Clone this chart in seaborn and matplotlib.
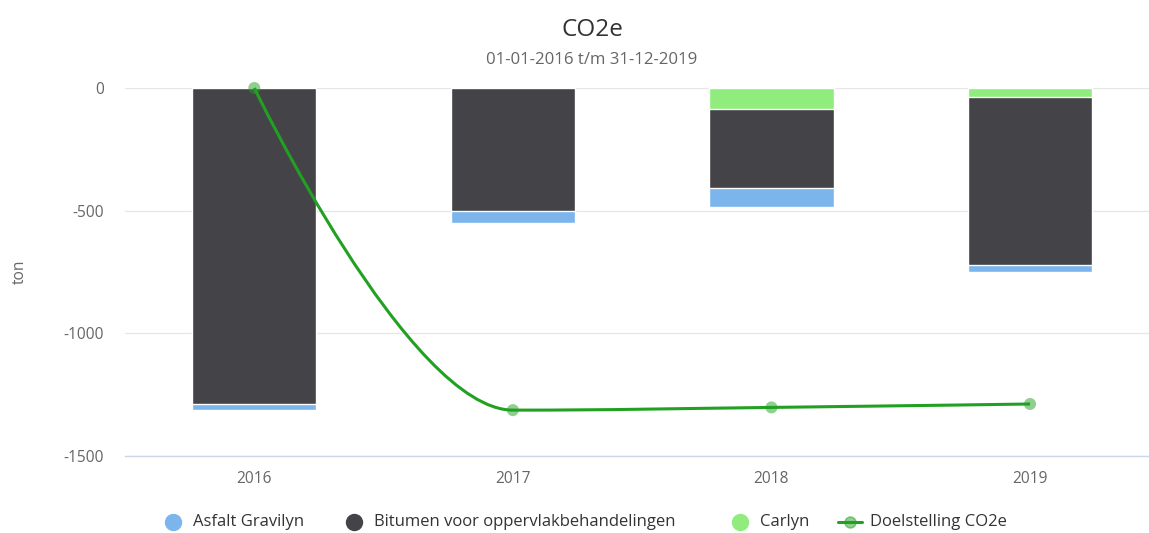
import numpy as np
import pandas as pd
import matplotlib
matplotlib.use("Agg")
import matplotlib.pyplot as plt
from matplotlib.path import Path
from matplotlib.patches import PathPatch
from matplotlib.lines import Line2D
import seaborn as sns

# ---------------- data ----------------
years = ["2016", "2017", "2018", "2019"]
asfalt = [-25, -48, -79, -31]
bitumen = [-1288, -503, -324, -685]
carlyn = [0, 0, -84, -35]
doelstelling = [0, -1313, -1302, -1288]
y_ticks = [-1500, -1000, -500, 0]
y_tick_labels = ["-1500", "-1000", "-500", "0"]
series_names = ["Asfalt Gravilyn", "Bitumen voor oppervlakbehandelingen",
                "Carlyn", "Doelstelling CO2e"]

colors = ["#7cb5ec", "#434348", "#90ed7d"]
line_color = "#22a022"

sns.set_style("white")
plt.rcParams["font.family"] = ["Open Sans", "DejaVu Sans"]
plt.rcParams["axes.unicode_minus"] = False

W, H = 1149, 533
fig = plt.figure(figsize=(W / 100, H / 100), dpi=100)
ax = fig.add_axes([125 / W, (H - 456) / H, (W - 125) / W, (456 - 88) / H])

# stacked (negative): Carlyn nearest zero, then Bitumen, then Asfalt
c_carlyn = np.array(carlyn, float)
c_bitumen = c_carlyn + np.array(bitumen, float)
c_asfalt = c_bitumen + np.array(asfalt, float)
df = pd.DataFrame({"year": years, "asfalt": c_asfalt,
                   "bitumen": c_bitumen, "carlyn": c_carlyn})
for col, color in zip(["asfalt", "bitumen", "carlyn"], colors):
    sns.barplot(data=df, x="year", y=col, color=color, width=0.48,
                edgecolor="white", linewidth=1.0, saturation=1, ax=ax,
                zorder=2, errorbar=None)
for p in ax.patches:
    if abs(p.get_height()) < 1e-9:
        p.set_visible(False)


# ---------------- spline (Highcharts style) ----------------
def spline_path(xs, ys, smoothing=1.5):
    denom = smoothing + 1
    n = len(xs)
    lc = [(x, y) for x, y in zip(xs, ys)]
    rc = list(lc)
    for i in range(1, n - 1):
        px, py = xs[i], ys[i]
        lx, ly = xs[i - 1], ys[i - 1]
        nx, ny = xs[i + 1], ys[i + 1]
        lcx = (smoothing * px + lx) / denom
        lcy = (smoothing * py + ly) / denom
        rcx = (smoothing * px + nx) / denom
        rcy = (smoothing * py + ny) / denom
        corr = ((rcy - lcy) * (rcx - px)) / (rcx - lcx) + py - rcy
        lcy += corr
        rcy += corr
        if lcy > ly and lcy > py:
            lcy = max(ly, py); rcy = 2 * py - lcy
        elif lcy < ly and lcy < py:
            lcy = min(ly, py); rcy = 2 * py - lcy
        if rcy > ny and rcy > py:
            rcy = max(ny, py); lcy = 2 * py - rcy
        elif rcy < ny and rcy < py:
            rcy = min(ny, py); lcy = 2 * py - rcy
        lc[i] = (lcx, lcy)
        rc[i] = (rcx, rcy)
    verts = [(xs[0], ys[0])]
    codes = [Path.MOVETO]
    for i in range(1, n):
        verts += [rc[i - 1], lc[i], (xs[i], ys[i])]
        codes += [Path.CURVE4] * 3
    return Path(verts, codes)


xs = np.arange(len(years), dtype=float)
ys = np.array(doelstelling, float)
ax.add_patch(PathPatch(spline_path(xs, ys), facecolor="none",
                       edgecolor=line_color, lw=2.2, zorder=3, clip_on=False))
sns.scatterplot(x=years, y=doelstelling, color=line_color, alpha=0.5, s=75,
                edgecolor="none", ax=ax, zorder=4, clip_on=False, legend=False)

# ---------------- axes styling ----------------
ax.set_xlim(-0.5, 3.46)
ax.set_ylim(-1500, 0)
ax.set_yticks(y_ticks)
ax.set_yticklabels(y_tick_labels)
for s in ["left", "right", "top"]:
    ax.spines[s].set_visible(False)
ax.spines["bottom"].set_color("#ccd6eb")
ax.spines["bottom"].set_linewidth(1.0)
ax.yaxis.grid(True, color="#e6e6e6", lw=0.9)
ax.xaxis.grid(False)
ax.set_axisbelow(True)
ax.tick_params(axis="x", length=0, pad=11, labelsize=11.2, labelcolor="#666666")
ax.tick_params(axis="y", length=0, pad=15, labelsize=11.2, labelcolor="#666666")
ax.set_xlabel("")
ax.set_ylabel("ton", fontsize=11.2, color="#666666")
ax.yaxis.set_label_coords((28 - 125) / (W - 125), 0.5)

# ---------------- titles ----------------
fig.text(592 / W, 1 - 30 / H, "CO2e", ha="center", va="center",
         fontsize=17.5, color="#333333")
fig.text(592 / W, 1 - 60 / H, "01-01-2016 t/m 31-12-2019", ha="center",
         va="center", fontsize=12.1, color="#666666")

# ---------------- legend ----------------
ly = 1 - 522 / H
marker_x = [173, 354, 740]
for name, color, mx in zip(series_names[:3], colors, marker_x):
    fig.add_artist(Line2D([mx / W], [ly], marker="o", markersize=11.5,
                          color=color, linestyle="none",
                          transform=fig.transFigure))
    fig.text((mx + 20) / W, ly, name, ha="left", va="center",
             fontsize=12.0, color="#333333")
fig.add_artist(Line2D([838 / W, 862 / W], [ly, ly], color=line_color, lw=2.2,
                      transform=fig.transFigure))
fig.add_artist(Line2D([850 / W], [ly], marker="o", markersize=8,
                      color=line_color, alpha=0.5, linestyle="none",
                      transform=fig.transFigure))
fig.text(870 / W, ly, series_names[3], ha="left", va="center",
         fontsize=12.0, color="#333333")

fig.savefig("out.png", dpi=100)
